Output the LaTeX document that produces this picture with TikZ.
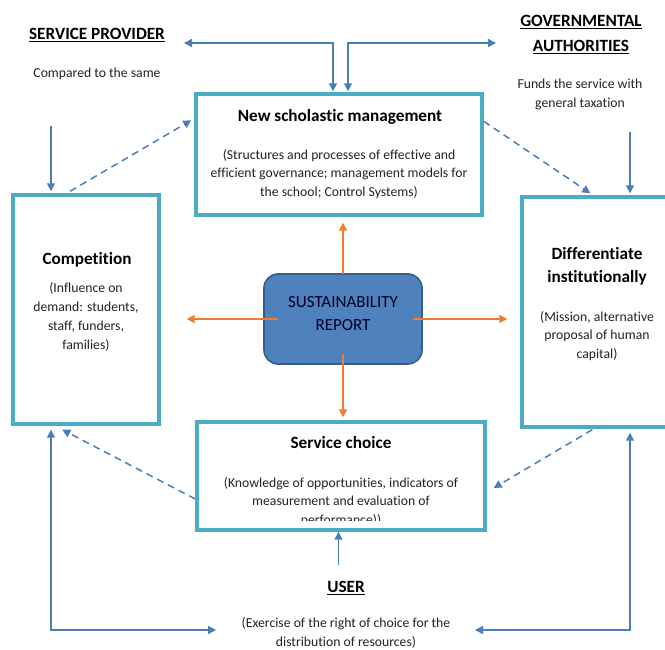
\documentclass[tikz,border=0pt]{standalone}
\usepackage{fontspec}
\setmainfont{Carlito}[Ligatures=NoCommon]
\usetikzlibrary{arrows.meta}
\definecolor{boxteal}{RGB}{75,172,198}
\definecolor{linkblue}{RGB}{74,126,187}
\definecolor{reportfill}{RGB}{79,129,189}
\definecolor{reportedge}{RGB}{56,93,138}
\definecolor{pushorange}{RGB}{237,125,49}
\definecolor{txtgray}{RGB}{35,35,35}

\begin{document}
\begin{tikzpicture}[x=1pt, y=-1pt,
    box/.style={draw=boxteal, line width=3.4pt, fill=white, inner sep=0pt},
    title/.style={font=\fontsize{17.2}{23}\selectfont\bfseries, align=center, text=black},
    small/.style={font=\fontsize{13.7}{18.8}\selectfont, align=center, text=txtgray},
    link/.style={linkblue, line width=1.5pt, -{Triangle[length=8pt,width=8pt]}},
    twolink/.style={linkblue, line width=1.5pt, {Triangle[length=8pt,width=8pt]}-{Triangle[length=8pt,width=8pt]}},
    dashlink/.style={link, dash pattern=on 7pt off 5pt},
    push/.style={pushorange, line width=1.7pt, -{Triangle[length=8pt,width=8pt]}}]
    \useasboundingbox[fill=white] (0,0) rectangle (665,650);

    \node[box, minimum width=286pt, minimum height=121pt] (mgmt) at (339,154.5) {};
    \node[box, minimum width=146pt, minimum height=229pt] (comp) at (86,309.5) {};
    \node[box, minimum width=158pt, minimum height=230pt] (diff) at (601,312) {};
    \node[box, minimum width=288pt, minimum height=108pt] (choice) at (341,476) {};
    \node[draw=reportedge, fill=reportfill, line width=1.6pt, rounded corners=14pt,
        minimum width=158pt, minimum height=90pt] (report) at (343,319) {};

    \node[title] (provider) at (97,35) {\underline{SERVICE PROVIDER}};
    \node[small] (compared) at (97,74) {Compared to the same};
    \node[title, font=\fontsize{17.2}{25}\selectfont\bfseries] (gov) at (581,34.5) {\underline{GOVERNMENTAL}\\\underline{AUTHORITIES}};
    \node[small] (funds) at (580,94.5) {Funds the service with\\general taxation};

    \node[title] (mgmttitle) at (340,117) {New scholastic management};
    \node[small] (mgmttext) at (339,174) {(Structures and processes of effective and\\efficient governance; management models for\\the school; Control Systems)};
    \node[title] (comptitle) at (87,260) {Competition};
    \node[small] (comptext) at (86,317) {(Influence on\\demand: students,\\staff, funders,\\families)};
    \node[title] (difftitle) at (597,266.5) {Differentiate\\institutionally};
    \node[small] (difftext) at (597,336) {(Mission, alternative\\proposal of human\\capital)};
    \node[font=\fontsize{17}{23}\selectfont, align=center, text=black!85!blue] (reporttext) at (343,313.5) {SUSTAINABILITY\\REPORT};
    \node[title] (choicetitle) at (341,443) {Service choice};
    \begin{scope}
        \clip ([xshift=2pt,yshift=-2pt]choice.north west) rectangle ([xshift=-2pt,yshift=11pt]choice.south east);
        \node[small] (choicetext) at (341,502) {(Knowledge of opportunities, indicators of\\measurement and evaluation of\\performance))};
    \end{scope}
    \node[title] (user) at (346,588) {\underline{USER}};
    \node[small] (exercise) at (346,633) {(Exercise of the right of choice for the\\distribution of resources)};

    \coordinate (provtip) at (184,43);
    \coordinate (govtip) at (496,43);
    \coordinate (compsrc) at (51,126);
    \coordinate (fundsrc) at (630,132);
    \coordinate (usertipl) at (216,630);
    \coordinate (usertipr) at (475,630);

    \draw[twolink] (provtip) -| ([xshift=-6pt,yshift=1pt]mgmt.north);
    \draw[twolink] (govtip) -| ([xshift=9pt,yshift=1pt]mgmt.north);
    \draw[link] (compsrc) -- ([yshift=2pt]compsrc |- comp.north);
    \draw[link] (fundsrc) -- ([yshift=2pt]fundsrc |- diff.north);
    \draw[dashlink] ([xshift=-16pt,yshift=2pt]comp.north) -- ([xshift=-3pt,yshift=-28pt]mgmt.north west);
    \draw[dashlink] ([yshift=-29pt]mgmt.north east) -- ([xshift=70pt,yshift=2pt]diff.north west);
    \draw[dashlink] ([yshift=-23pt]choice.west) -- ([xshift=51pt,yshift=-4pt]comp.south west);
    \draw[dashlink] ([xshift=72pt,yshift=-1pt]diff.south west) -- ([xshift=7pt,yshift=-12pt]choice.east);
    \draw[link] ([xshift=-2.5pt,yshift=-33pt]choice.south) -- ([xshift=-2.5pt]choice.south);
    \draw[twolink] ([yshift=-4pt]compsrc |- comp.south) |- (usertipl);
    \draw[twolink] ([yshift=-4pt]fundsrc |- diff.south) |- (usertipr);

    \draw[push] ([yshift=-1pt]report.north) -- ([yshift=-6pt]report.north |- mgmt.south);
    \draw[push] ([yshift=11pt]report.south) -- ([yshift=3pt]report.south |- choice.north);
    \draw[push] ([xshift=15pt]report.west) -- ([xshift=26pt]report.west -| comp.east);
    \draw[push] ([xshift=-10pt]report.east) -- ([xshift=-13pt]report.east -| diff.west);
\end{tikzpicture}
\end{document}
